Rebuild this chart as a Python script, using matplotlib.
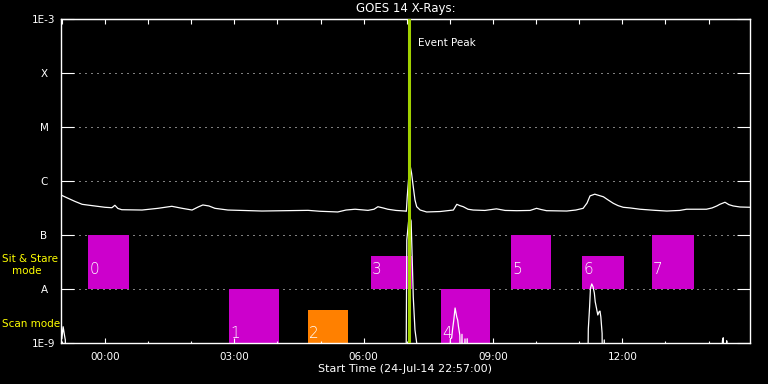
"""GOES 14 X-ray flux around the 25-Jul-14 event, with the observation
boxes (sit & stare / scan mode) drawn on the flux axis."""

import matplotlib

matplotlib.use("Agg")
import matplotlib.pyplot as plt
from matplotlib.ticker import FixedLocator, NullLocator

# time axis: hours from 00:00 on 25-Jul-14 (plot starts 24-Jul-14 22:57)
X_RANGE = (-1.02, 14.96)
TICK_HOURS = [0, 3, 6, 9, 12]
TICK_LABELS = ["00:00", "03:00", "06:00", "09:00", "12:00"]
MINOR_HOURS = list(range(-1, 15))

LEVELS = [1e-3, 1e-4, 1e-5, 1e-6, 1e-7, 1e-8, 1e-9]
LEVEL_LABELS = ["1E-3", "X", "M", "C", "B", "A", "1E-9"]

# 1-8 A channel (W/m^2)
long_hours = [-1.02, -0.86, -0.70, -0.53, -0.30, 0.00, 0.16, 0.23, 0.30, 0.39,
              0.86, 1.23, 1.55, 1.79, 2.02, 2.16, 2.27, 2.41, 2.55, 2.85,
              3.64, 4.71, 4.99, 5.40, 5.59, 5.80, 6.10, 6.24, 6.33, 6.45,
              6.56, 6.75, 6.96, 6.99, 7.01, 7.04, 7.07, 7.11, 7.15, 7.19,
              7.23, 7.31, 7.46, 7.77, 8.08, 8.16, 8.23, 8.31, 8.42, 8.54,
              8.81, 9.08, 9.28, 9.55, 9.86, 10.01, 10.11, 10.24, 10.71, 10.92,
              11.09, 11.18, 11.25, 11.36, 11.56, 11.67, 11.79, 11.90, 12.02, 12.18,
              12.41, 12.76, 13.03, 13.33, 13.49, 13.80, 13.95, 14.08, 14.19, 14.26,
              14.38, 14.47, 14.57, 14.73, 14.96]
long_flux = [5.5e-7, 4.8e-7, 4.2e-7, 3.7e-7, 3.5e-7, 3.26e-7, 3.2e-7, 3.55e-7, 3.1e-7, 2.94e-7,
             2.9e-7, 3.12e-7, 3.4e-7, 3.12e-7, 2.9e-7, 3.3e-7, 3.6e-7, 3.45e-7, 3.12e-7, 2.9e-7,
             2.78e-7, 2.86e-7, 2.75e-7, 2.67e-7, 2.9e-7, 3.0e-7, 2.86e-7, 3.0e-7, 3.34e-7, 3.17e-7,
             3.0e-7, 2.85e-7, 2.78e-7, 2.75e-7, 5.1e-7, 1.04e-6, 2.07e-6, 1.41e-6, 7.8e-7, 4.45e-7,
             3.34e-7, 2.9e-7, 2.67e-7, 2.72e-7, 2.9e-7, 3.7e-7, 3.5e-7, 3.34e-7, 3.0e-7, 2.9e-7,
             2.85e-7, 3.05e-7, 2.85e-7, 2.82e-7, 2.85e-7, 3.12e-7, 2.97e-7, 2.82e-7, 2.78e-7, 2.9e-7,
             3.12e-7, 3.9e-7, 5.3e-7, 5.7e-7, 5.1e-7, 4.45e-7, 3.86e-7, 3.5e-7, 3.26e-7, 3.17e-7,
             3.0e-7, 2.86e-7, 2.78e-7, 2.85e-7, 3.0e-7, 3.0e-7, 3.0e-7, 3.17e-7, 3.45e-7, 3.7e-7,
             4.04e-7, 3.65e-7, 3.45e-7, 3.3e-7, 3.26e-7]

# 0.5-4 A channel, mostly below the 1E-9 floor (1e-10 = off scale)
short_hours = [-1.02, -1.00, -0.97, -0.94, -0.92, -0.90,
               6.98, 7.00, 7.04, 7.06, 7.10, 7.12, 7.15, 7.19, 7.23, 7.25,
               7.99, 8.01, 8.04, 8.06, 8.09, 8.12, 8.16, 8.18, 8.20, 8.23,
               8.26, 8.28, 8.30, 8.35, 8.37, 8.40, 8.43,
               11.19, 11.21, 11.24, 11.26, 11.29, 11.32, 11.35, 11.37, 11.40, 11.43,
               11.46, 11.48, 11.50, 11.53, 11.54, 11.58, 11.60,
               14.31, 14.32, 14.34, 14.36, 14.41, 14.42, 14.43, 14.96]
short_flux = [3.0e-9, 1.2e-9, 2.0e-9, 1.4e-9, 1.14e-9, 1e-10,
              1e-10, 8.1e-8, 1.74e-7, 2.25e-7, 1.82e-7, 5.3e-8, 7.1e-9, 1.74e-9, 1.0e-9, 1e-10,
              1e-10, 1.19e-9, 1.24e-9, 1.74e-9, 2.67e-9, 4.45e-9, 3.0e-9, 2.67e-9, 1.98e-9, 1.4e-9,
              1e-10, 1.45e-9, 1e-10, 1.19e-9, 1e-10, 1.2e-9, 1e-10,
              1e-10, 1.82e-9, 4.7e-9, 1.04e-8, 1.24e-8, 1.1e-8, 8.4e-9, 5.8e-9, 4.4e-9, 3.3e-9,
              3.8e-9, 3.9e-9, 3.07e-9, 1.51e-9, 1e-10, 1.14e-9, 1e-10,
              1e-10, 1.1e-9, 1.25e-9, 1e-10, 1e-10, 1.1e-9, 1e-10, 1e-10]

# observation boxes
box_ids = ["0", "1", "2", "3", "4", "5", "6", "7"]
box_start = [-0.394, 2.876, 4.708, 6.169, 7.792, 9.416, 11.063, 12.685]
box_end = [0.557, 4.035, 5.635, 7.120, 8.929, 10.343, 12.036, 13.659]
box_low = [1e-8, 1e-9, 1e-9, 1e-8, 1e-9, 1e-8, 1e-8, 1e-8]
box_high = [1e-7, 1e-8, 4.1e-9, 4.1e-8, 1e-8, 1e-7, 4.1e-8, 1e-7]
box_kind = ["sit", "scan", "scan", "sit", "scan", "sit", "sit", "sit"]
box_colors = ["#cc00cc", "#cc00cc", "#ff8000", "#cc00cc",
              "#cc00cc", "#cc00cc", "#cc00cc", "#cc00cc"]

EVENT_PEAK = 7.055
EVENT_COLOR = "#a0d000"

W, H = 768, 384
fig = plt.figure(figsize=(W / 100, H / 100), dpi=100, facecolor="black")
ax = fig.add_axes([61 / W, 41 / H, 689 / W, 324 / H], facecolor="black")
ax.set_yscale("log")
ax.set_xlim(*X_RANGE)
ax.set_ylim(1e-9, 1e-3)

# dotted level lines under everything
for lev in LEVELS[1:-1]:
    ax.axhline(lev, color="white", lw=0.72, ls=(0, (1, 5)), zorder=0.5)

widths = [e - s for s, e in zip(box_start, box_end)]
heights = [h - l for l, h in zip(box_low, box_high)]
ax.bar(box_start, heights, width=widths, bottom=box_low, align="edge",
       color=box_colors, linewidth=0, zorder=1)
for bid, s, kind in zip(box_ids, box_start, box_kind):
    ax.text(s + 0.03, 2.25e-8 if kind == "sit" else 1.53e-9, bid,
            color="white", fontsize=11, fontweight="light",
            ha="left", va="center", zorder=5)

ax.plot(long_hours, long_flux, color="white", lw=0.9, zorder=3)
ax.plot(short_hours, short_flux, color="white", lw=0.9, zorder=3)

ax.axvline(EVENT_PEAK, color=EVENT_COLOR, lw=2.2, zorder=4)
ax.text(7.26, 3.67e-4, "Event Peak", color="white", fontsize=7.5,
        ha="left", va="center", zorder=5)

for side in ax.spines.values():
    side.set_color("white")
    side.set_linewidth(1.0)
ax.set_axisbelow(False)

ax.set_xticks(TICK_HOURS, TICK_LABELS)
ax.xaxis.set_minor_locator(FixedLocator(MINOR_HOURS))
ax.tick_params(axis="x", which="major", direction="in", length=3.6, width=0.8,
               colors="white", labelsize=7.5, pad=6.5)
ax.tick_params(axis="x", which="minor", direction="in", length=1.8, width=0.8,
               colors="white")
top = ax.secondary_xaxis("top")
top.set_xticks(MINOR_HOURS)
top.tick_params(direction="in", length=3.8, width=0.8, colors="white",
                labeltop=False)
top.spines["top"].set_color("white")

ax.set_yticks(LEVELS, LEVEL_LABELS)
ax.yaxis.set_minor_locator(NullLocator())
ax.tick_params(axis="y", which="major", direction="in", length=9.4, width=0.8,
               colors="white", labelsize=7.5, pad=12.2, right=True)
for lab in ax.get_yticklabels():
    lab.set_horizontalalignment("center")

ax.set_title("GOES 14 X-Rays:", color="white", fontsize=8.5, pad=5)
ax.set_xlabel("Start Time (24-Jul-14 22:57:00)", color="white", fontsize=8)
ax.xaxis.set_label_coords(0.5, -0.065)

mode_color = "#ffff00"
fig.text(2 / W, 1 - 259 / H, "Sit & Stare", color=mode_color, fontsize=7.5,
         ha="left", va="center")
fig.text(12 / W, 1 - 271 / H, "mode", color=mode_color, fontsize=7.5,
         ha="left", va="center")
fig.text(2 / W, 1 - 324 / H, "Scan mode", color=mode_color, fontsize=7.5,
         ha="left", va="center")

fig.savefig("out.png", dpi=100, facecolor="black")
plt.close(fig)
